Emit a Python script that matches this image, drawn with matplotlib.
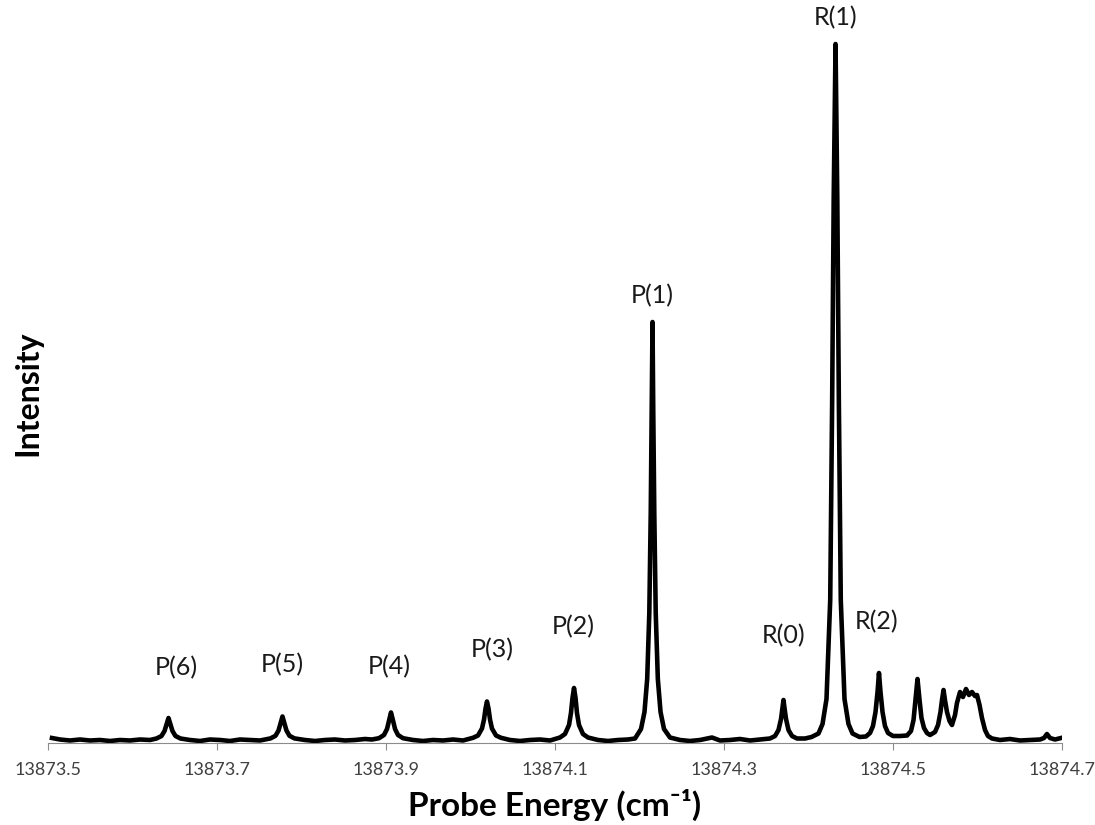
import matplotlib.pyplot as plt

plt.rcParams['font.family'] = ['Lato', 'DejaVu Sans']

# digitised probe scan: energy (cm^-1) and signal (arb. units)
energy = [
    # baseline below P(6)
    13873.5047, 13873.5142, 13873.5260, 13873.5379, 13873.5497, 13873.5615,
    13873.5734, 13873.5852, 13873.5970, 13873.6089, 13873.6207,
    # P(6)
    13873.6284, 13873.6343, 13873.6379, 13873.6402, 13873.6426, 13873.6450,
    13873.6473, 13873.6509, 13873.6568,
    13873.6680, 13873.6799, 13873.6917, 13873.7036, 13873.7154, 13873.7272,
    13873.7391, 13873.7509, 13873.7568,
    # P(5)
    13873.7633, 13873.7692, 13873.7728, 13873.7751, 13873.7775, 13873.7799,
    13873.7822, 13873.7858, 13873.7917,
    13873.8041, 13873.8160, 13873.8278, 13873.8396, 13873.8515, 13873.8633,
    13873.8751, 13873.8834,
    # P(4)
    13873.8917, 13873.8976, 13873.9012, 13873.9036, 13873.9059, 13873.9083,
    13873.9107, 13873.9142, 13873.9201,
    13873.9320, 13873.9438, 13873.9556, 13873.9675, 13873.9793, 13873.9911,
    # P(3)
    13874.0030, 13874.0089, 13874.0136, 13874.0160, 13874.0178, 13874.0195,
    13874.0213, 13874.0231, 13874.0254, 13874.0302, 13874.0361,
    13874.0467, 13874.0586, 13874.0704, 13874.0822, 13874.0941,
    # P(2)
    13874.1059, 13874.1118, 13874.1166, 13874.1189, 13874.1207, 13874.1225,
    13874.1243, 13874.1260, 13874.1284, 13874.1331, 13874.1391,
    13874.1509, 13874.1627, 13874.1746, 13874.1864,
    # P(1)
    13874.1947, 13874.2018, 13874.2059, 13874.2091, 13874.2116, 13874.2133,
    13874.2144, 13874.2154, 13874.2163, 13874.2175, 13874.2192, 13874.2217,
    13874.2249, 13874.2290, 13874.2361,
    13874.2479, 13874.2598, 13874.2716, 13874.2858, 13874.2953, 13874.3071,
    13874.3189, 13874.3308, 13874.3426,
    # R(0)
    13874.3544, 13874.3604, 13874.3645, 13874.3675, 13874.3692, 13874.3704,
    13874.3716, 13874.3734, 13874.3763, 13874.3805, 13874.3864, 13874.3959,
    # R(1)
    13874.4036, 13874.4118, 13874.4166, 13874.4213, 13874.4257, 13874.4280,
    13874.4298, 13874.4320, 13874.4341, 13874.4359, 13874.4382, 13874.4426,
    13874.4473, 13874.4521, 13874.4604, 13874.4680,
    # R(2)
    13874.4728, 13874.4763, 13874.4793, 13874.4817, 13874.4834, 13874.4852,
    13874.4876, 13874.4905, 13874.4941, 13874.5000, 13874.5083, 13874.5166,
    # R(3), R(4)
    13874.5213, 13874.5243, 13874.5266, 13874.5290, 13874.5314, 13874.5337,
    13874.5367, 13874.5402, 13874.5438,
    13874.5497, 13874.5533, 13874.5562, 13874.5580, 13874.5598, 13874.5615,
    13874.5639, 13874.5669, 13874.5698,
    # unresolved band head
    13874.5734, 13874.5757, 13874.5793, 13874.5828, 13874.5864, 13874.5899,
    13874.5935, 13874.5970, 13874.5994, 13874.6024, 13874.6053, 13874.6089,
    13874.6124, 13874.6172,
    13874.6266, 13874.6385, 13874.6503, 13874.6621, 13874.6740, 13874.6787,
    13874.6822, 13874.6858, 13874.6917, 13874.6988,
]

intensity = [
    5, 3.5, 2.5, 3.5, 2.5, 3, 2, 3, 2.5, 3.5, 3,
    4.5, 7, 12, 18.5, 25, 18.5, 12, 7, 4.5,
    3, 2, 3.5, 3, 2, 3.5, 3, 2.5, 3.5,
    4.6, 7.2, 12.5, 19.5, 26.5, 19.5, 12.5, 7.2, 4.6,
    3, 2, 3, 3.5, 2.5, 3, 4, 3.5,
    4.8, 8, 14, 22.5, 30.5, 22.5, 14, 8, 4.8,
    3, 2, 3, 2.5, 3.5, 2.5,
    5.2, 7.5, 14.5, 23.5, 34.5, 41.5, 34.5, 23.5, 14.5, 7.5, 5.2,
    3, 2, 3, 3.5, 2.5,
    5.5, 9, 18, 30, 45, 55, 45, 30, 18, 9, 5.5,
    3, 2, 3, 3.5,
    4.5, 14, 31, 64, 130, 230, 330, 421, 330, 230, 130, 64, 31, 14, 5.5,
    3, 2, 3, 5.5, 2.5, 3, 4, 2.5, 3.5,
    4.5, 7, 13, 24, 35, 43, 35, 24, 13, 7, 4.5, 4.5,
    6, 9.5, 19, 44, 143, 343, 543, 699, 543, 343, 143, 44, 19, 9.5, 6, 6.5,
    10, 17, 31, 51, 70, 51, 31, 17, 10, 7, 7, 7.5,
    12, 23, 43, 64, 43, 25, 15, 10, 8,
    11, 18, 31, 43, 53, 43, 31, 22, 18,
    28, 40, 51, 46, 54, 48, 51, 47, 48, 38, 25, 13, 7, 4.5,
    3, 4, 2.5, 3, 3.5, 5, 9, 5, 3.5, 5,
]

line_names = ['P(6)', 'P(5)', 'P(4)', 'P(3)', 'P(2)', 'P(1)', 'R(0)', 'R(1)', 'R(2)']
line_energy = [13873.6426, 13873.7775, 13873.9059, 13874.0195, 13874.1225,
               13874.2154, 13874.3704, 13874.4320, 13874.4834]

tick_values = [13873.5, 13873.7, 13873.9, 13874.1, 13874.3, 13874.5, 13874.7]

# label offsets from each peak tip, in pixels
label_offsets = [(8, 50), (0, 52), (-2, 46), (5, 52), (-1, 61), (0, 26),
                 (0, 64), (0, 26), (-2, 51)]

fig = plt.figure(figsize=(10.95, 8.25), dpi=100)
ax = fig.add_axes([48 / 1095, 82 / 825, 1014 / 1095, 735 / 825])

ax.plot(energy, intensity, color='black', lw=3.3, solid_joinstyle='round')

for name, e, off in zip(line_names, line_energy, label_offsets):
    peak = intensity[energy.index(e)]
    ax.annotate(name, (e, peak), xytext=off, textcoords='offset pixels',
                ha='center', va='center', fontsize=18, color='#1a1a1a')

ax.set_xlim(13873.5, 13874.7)
ax.set_ylim(0, 735)
ax.set_xticks(tick_values)
ax.set_xticklabels([f'{t:.1f}' for t in tick_values])
ax.set_yticks([])

for side in ['top', 'left', 'right']:
    ax.spines[side].set_visible(False)
ax.spines['bottom'].set_color('#8c8c8c')
ax.tick_params(axis='x', direction='out', length=5, color='#8c8c8c',
               labelsize=13, labelcolor='#404040', pad=9)

ax.set_xlabel('Probe Energy (cm⁻¹)', fontsize=24, fontweight='bold')
ax.xaxis.set_label_coords(0.5, -0.084)
ax.xaxis.label.set_va('center')
ax.set_ylabel('Intensity', fontsize=23, fontweight='bold')
ax.yaxis.set_label_coords(-0.0197, 0.476)
ax.yaxis.label.set_va('center')

fig.savefig('out.png', dpi=100)
